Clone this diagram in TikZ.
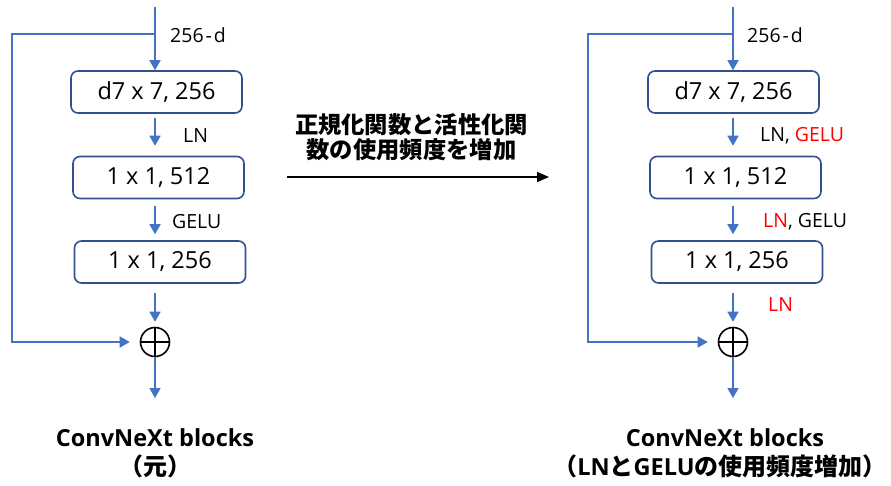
\documentclass[tikz,border=0pt]{standalone}
\usepackage{fontspec}
\setmainfont{Open Sans}
\newfontfamily\cjk{Noto Sans CJK JP}
\usetikzlibrary{arrows.meta}
\definecolor{lblue}{HTML}{4472C4}
\definecolor{dblue}{HTML}{2F528F}
\begin{document}
\begin{tikzpicture}[x=1pt,y=-1pt,
 box/.style={draw=dblue, line width=1.6pt, rounded corners=7pt, minimum width=171pt, minimum height=42pt, inner sep=0pt, font=\fontsize{23.5}{27}\selectfont},
 flow/.style={draw=lblue, line width=1.6pt, -{Triangle[length=10pt,width=11pt]}},
 lbl/.style={font=\fontsize{19.5}{23}\selectfont, anchor=west, inner sep=0pt},
 sumnode/.style={circle, draw=black, line width=1.6pt, minimum size=29pt, inner sep=0pt, path picture={\draw[black, line width=1.6pt] (path picture bounding box.north) -- (path picture bounding box.south) (path picture bounding box.west) -- (path picture bounding box.east);}},
 title/.style={font=\fontsize{23.5}{27}\selectfont\bfseries, inner sep=0pt},
]
\newcommand{\jp}[1]{{\cjk\fontsize{24}{28}\selectfont\bfseries #1}}
\newcommand{\dimd}{256\hspace{2pt}-\hspace{2pt}d}
\useasboundingbox (0,0) rectangle (891,485);
% ---------- left column ----------
\coordinate (Ltop) at (155,7);
\coordinate (Lbr) at (155,34);
\coordinate (Lc1) at (12,34);
\coordinate (Lc2) at (12,342);
\coordinate (Lend) at (155,398);
\node[box] (L1) at (156.5,92) {d7 x 7, 256};
\node[box] (L2) at (158.5,177.5) {1 x 1, 512};
\node[box] (L3) at (160,262) {1 x 1, 256};
\node[sumnode] (Ls) at (155,342) {};
\draw[flow] (Ltop) -- (Ltop |- L1.north);
\draw[flow, shorten <=4pt, shorten >=10pt] (L1.south -| Ltop) -- (L2.north -| Ltop);
\draw[flow, shorten <=7pt, shorten >=6pt] (L2.south -| Ltop) -- (L3.north -| Ltop);
\draw[flow, shorten <=9pt, shorten >=5pt] (L3.south -| Ltop) -- (Ls.north);
\draw[flow] (Ls.south) -- (Lend);
\draw[flow, shorten >=10pt] (Lbr) -- (Lc1) -- (Lc2) -- (Ls.west);
\node[lbl] (Ld) at (170,35) {\dimd};
\node[lbl] (Lln) at (183,136) {LN};
\node[lbl] (Lgelu) at (172,222) {GELU};
\node[title] (Lt1) at (155,438) {ConvNeXt blocks};
\node[title] (Lt2) at (155,466) {\jp{（元）}};
% ---------- middle ----------
\node[font=\cjk\fontsize{23.3}{27}\selectfont\bfseries, inner sep=0pt] (M1) at (411.5,125) {正規化関数と活性化関};
\node[font=\cjk\fontsize{23.3}{27}\selectfont\bfseries, inner sep=0pt] (M2) at (411.5,150) {数の使用頻度を増加};
\coordinate (Ma) at (287,177);
\coordinate (Mb) at (549,177);
\draw[line width=1.6pt, -{Triangle[length=12pt,width=10pt]}] (Ma) -- (Mb);
% ---------- right column ----------
\coordinate (Rtop) at (733,7);
\coordinate (Rbr) at (733,34);
\coordinate (Rc1) at (588,34);
\coordinate (Rc2) at (588,342);
\coordinate (Rend) at (733,398);
\node[box] (R1) at (733.5,92) {d7 x 7, 256};
\node[box] (R2) at (735.5,177.5) {1 x 1, 512};
\node[box] (R3) at (737,262) {1 x 1, 256};
\node[sumnode] (Rs) at (733,342) {};
\draw[flow] (Rtop) -- (Rtop |- R1.north);
\draw[flow, shorten <=4pt, shorten >=10pt] (R1.south -| Rtop) -- (R2.north -| Rtop);
\draw[flow, shorten <=7pt, shorten >=6pt] (R2.south -| Rtop) -- (R3.north -| Rtop);
\draw[flow, shorten <=9pt, shorten >=5pt] (R3.south -| Rtop) -- (Rs.north);
\draw[flow] (Rs.south) -- (Rend);
\draw[flow, shorten >=10pt] (Rbr) -- (Rc1) -- (Rc2) -- (Rs.west);
\node[lbl] (Rd) at (747,35) {\dimd};
\node[lbl] (Rl1) at (760,136) {LN, \textcolor{red}{GELU}};
\node[lbl] (Rl2) at (763,222) {\textcolor{red}{LN}, GELU};
\node[lbl, text=red] (Rl3) at (768,305) {LN};
\node[title] (Rt1) at (725,438) {ConvNeXt blocks};
\node[title] (Rt2) at (720,466) {\jp{（}LN\jp{と}GELU\jp{の使用頻度増加）}};
\end{tikzpicture}
\end{document}
